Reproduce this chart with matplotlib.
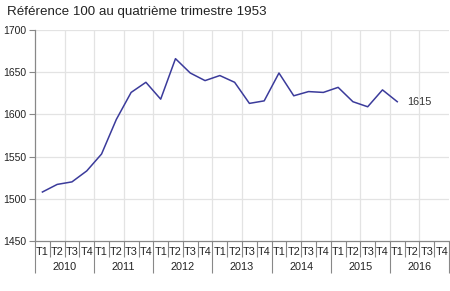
import matplotlib
matplotlib.use("Agg")
import matplotlib.pyplot as plt
import matplotlib.transforms as mtransforms

plt.rcParams['font.family'] = ['Liberation Sans', 'DejaVu Sans']

title = "Référence 100 au quatrième trimestre 1953"
years = ["2010", "2011", "2012", "2013", "2014", "2015", "2016"]
quarters = ["T1", "T2", "T3", "T4"]
values = [1508, 1517, 1520, 1533, 1553, 1594, 1626, 1638, 1618, 1666, 1649, 1640,
          1646, 1638, 1613, 1616, 1649, 1622, 1627, 1626, 1632, 1615, 1609, 1629, 1615]
last_label = "1615"
yticks = [1450, 1500, 1550, 1600, 1650, 1700]

fig = plt.figure(figsize=(4.5, 2.91), dpi=100)
ax = fig.add_axes([0.0778, 0.172, 0.92, 0.725])

n_q = len(years) * 4
xs = [i + 0.5 for i in range(len(values))]
ax.plot(xs, values, color="#3b3b9b", lw=1.1, zorder=3)
ax.set_xlim(0, n_q)
ax.set_ylim(1450, 1700)
ax.set_yticks(yticks)
ax.tick_params(axis="y", labelsize=7.5, labelcolor="#222222", color="#888888",
               length=4, width=0.8, pad=2)
for y in yticks[1:]:
    ax.axhline(y, color="#e3e3e3", lw=0.9, zorder=1)
for x in range(2, n_q, 2):
    ax.axvline(x, color="#e3e3e3", lw=0.9, zorder=1)

for s in ["top", "right"]:
    ax.spines[s].set_visible(False)
for s in ["left", "bottom"]:
    ax.spines[s].set_color("#888888")
    ax.spines[s].set_linewidth(0.9)

ax.set_xticks(range(0, n_q + 1, 4))
ax.set_xticks(range(0, n_q + 1), minor=True)
ax.set_xticklabels([])
ax.tick_params(axis="x", which="major", length=23, width=0.8, color="#888888")
ax.tick_params(axis="x", which="minor", length=11.5, width=0.8, color="#888888")

trans = mtransforms.blended_transform_factory(ax.transData, ax.transAxes)
for yi, yr in enumerate(years):
    for qi, q in enumerate(quarters):
        ax.text(yi * 4 + qi + 0.5, -0.051, q, transform=trans, ha="center", va="center",
                fontsize=7.8, color="#222222")
    ax.text(yi * 4 + 2, -0.125, yr, transform=trans, ha="center", va="center",
            fontsize=7.8, color="#222222")

ax.annotate(last_label, (xs[-1], values[-1]), xytext=(7, 0), textcoords="offset points",
            ha="left", va="center", fontsize=7.8, color="#333333")

fig.text(0.016, 0.958, title, fontsize=9.6, color="#222222", ha="left", va="center")

fig.savefig("out.png", dpi=100)
